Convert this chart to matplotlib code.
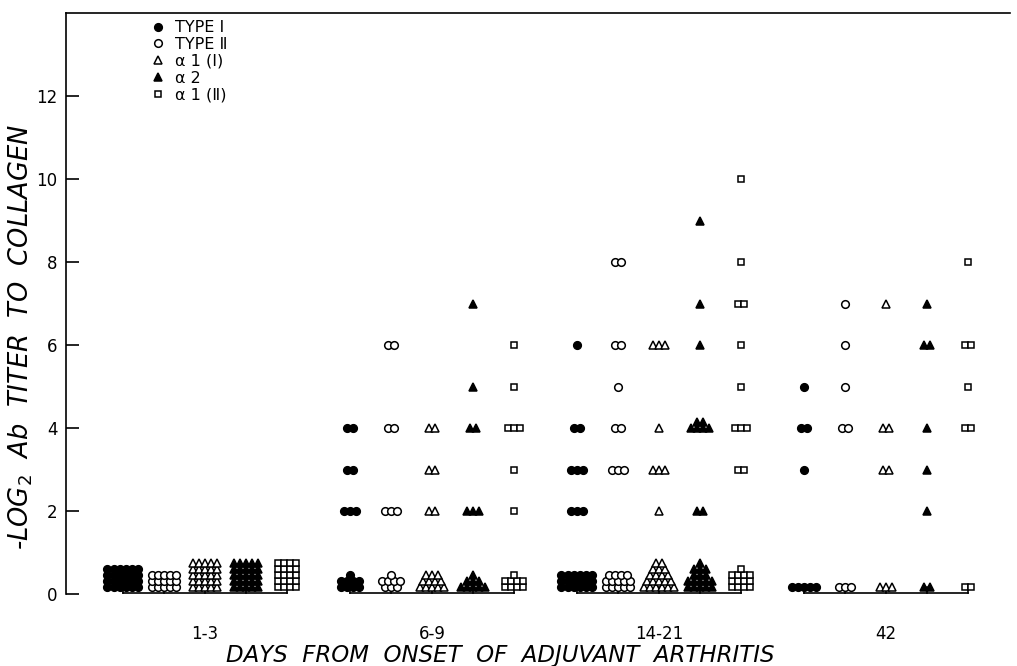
from collections import Counter
import numpy as np
import matplotlib
matplotlib.use("Agg")
import matplotlib.pyplot as plt

plt.rcParams['font.family'] = ['DejaVu Sans']

groups = ["1-3", "6-9", "14-21", "42"]
series = ["TYPE Ⅰ", "TYPE Ⅱ", "α 1 (Ⅰ)", "α 2", "α 1 (Ⅱ)"]

# -log2 titers of individual animals above the detection limit, one list per group
type1_titers = [[], [4, 4, 3, 3, 2, 2, 2], [6, 4, 4, 3, 3, 3, 2, 2, 2], [5, 4, 4, 3]]
type2_titers = [[], [6, 6, 4, 4, 2, 2, 2], [8, 8, 6, 6, 5, 4, 4, 3, 3, 3], [7, 6, 5, 4, 4]]
a1_I_titers = [[], [4, 4, 3, 3, 2, 2], [6, 6, 6, 4, 3, 3, 3, 2], [7, 4, 4, 3, 3]]
a2_titers = [[], [7, 5, 4, 4, 2, 2, 2], [9, 7, 6, 4, 4, 4, 4, 4, 4, 2, 2], [7, 6, 6, 4, 3, 2]]
a1_II_titers = [[], [6, 5, 4, 4, 4, 3, 2], [10, 8, 7, 7, 6, 5, 4, 4, 4, 3, 3], [8, 6, 6, 5, 4, 4]]

# animals with no detectable titer, drawn as piles (markers per row, bottom row first)
type1_base = [[6, 6, 6, 6], [4, 4, 1], [6, 6, 6], [5]]
type2_base = [[5, 5, 5], [3, 4, 1], [5, 5, 4], [3]]
a1_I_base = [[5, 5, 5, 5, 5], [5, 4, 3], [6, 5, 4, 3, 2], [3]]
a2_base = [[5, 5, 5, 5, 5], [5, 3, 1], [5, 5, 3, 3, 1], [2]]
a1_II_base = [[4, 4, 4, 4, 4], [4, 4, 1], [4, 4, 4, 1], [2]]

all_titers = [type1_titers, type2_titers, a1_I_titers, a2_titers, a1_II_titers]
all_base = [type1_base, type2_base, a1_I_base, a2_base, a1_II_base]

styles = [
    dict(marker='o', mfc='black', ms=5.5),
    dict(marker='o', mfc='white', ms=5.5),
    dict(marker='^', mfc='white', ms=6),
    dict(marker='^', mfc='black', ms=6),
    dict(marker='s', mfc='white', ms=5),
]

col_offsets = np.array([-2, -1, 0, 1, 2]) * 0.181
dx = 0.027      # spacing of side-by-side markers
dy = 0.14       # spacing of stacked rows
base_y = 0.18   # first row of the "undetectable" pile
bracket_y = 0.03

fig = plt.figure(figsize=(10.17, 6.66), dpi=100)
ax = fig.add_axes([0.0649, 0.0766, 0.9282, 0.904])

for s, (titers, base, st) in enumerate(zip(all_titers, all_base, styles)):
    xs, ys = [], []
    for g in range(len(groups)):
        xc = g + col_offsets[s]
        # undetectable pile
        for r, n in enumerate(base[g]):
            xs += list(xc + (np.arange(n) - (n - 1) / 2) * dx)
            ys += [base_y + r * dy] * n
        # detectable titers, side by side, max 4 per row
        for v, c in Counter(titers[g]).items():
            rows = [min(4, c - i) for i in range(0, c, 4)]
            for r, n in enumerate(rows):
                xs += list(xc + (np.arange(n) - (n - 1) / 2) * dx)
                ys += [v + r * dy] * n
    ax.plot(xs, ys, ls='none', mec='black', mew=1.1, label=series[s], **st)

# brackets tying each day group together
for g in range(len(groups)):
    ax.plot([g + col_offsets[0], g + col_offsets[-1]], [bracket_y, bracket_y],
            color='black', lw=1.2, zorder=1)
    for off in col_offsets:
        ax.plot([g + off, g + off], [bracket_y, base_y], color='black', lw=1.2, zorder=1)

ax.set_xlim(-0.612, 3.546)
ax.set_ylim(-0.5, 14)
ax.spines['right'].set_visible(False)
ax.spines['bottom'].set_visible(False)
ax.spines['left'].set_bounds(0, 14)
ax.spines['left'].set_linewidth(1.2)
ax.spines['top'].set_linewidth(1.2)

ax.set_yticks(range(0, 13, 2))
ax.tick_params(axis='y', direction='in', length=9, width=1.2, pad=6, labelsize=12)
ax.set_xticks(range(len(groups)))
ax.set_xticklabels(groups)
ax.tick_params(axis='x', length=0, pad=7, labelsize=12)

ax.legend(loc='upper left', bbox_to_anchor=(0.092, 0.988), frameon=False, fontsize=11.5,
          handlelength=0.7, handletextpad=0.7, labelspacing=0.12, borderaxespad=0,
          borderpad=0)

fig.text(0.4916, 0.0165, "DAYS  FROM  ONSET  OF  ADJUVANT  ARTHRITIS", ha='center', va='center',
         fontsize=16.5, style='italic')
fig.text(0.0205, 0.495, "-LOG$_2$  Ab  TITER  TO  COLLAGEN", ha='center', va='center',
         rotation=90, fontsize=18.5, style='italic')

fig.savefig("out.png", dpi=100)
